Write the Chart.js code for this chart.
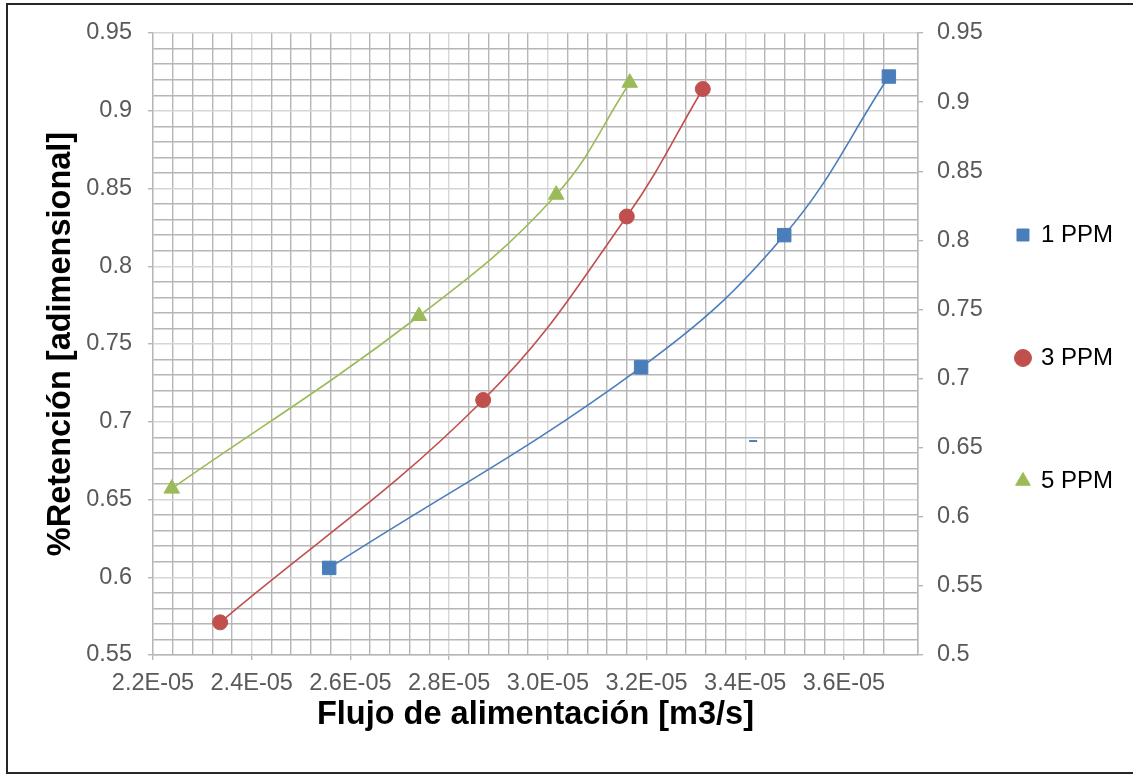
<!DOCTYPE html>
<html>
<head>
<meta charset="utf-8">
<script src="https://cdn.jsdelivr.net/npm/chart.js@4/dist/chart.umd.min.js"></script>
<style>
  body { margin: 0; background: #fff; overflow: hidden; }
  #wrap { position: relative; width: 1133px; height: 774px; }
  #frame { position: absolute; left: 6px; top: 3px; width: 1200px; height: 767px; border: 2px solid #262626; pointer-events: none; }
</style>
</head>
<body>
<div id="wrap">
  <canvas id="grafico" width="1133" height="774"></canvas>
  <div id="frame"></div>
</div>
<script>
// Datos
const series = ["1 PPM", "3 PPM", "5 PPM"];
const flujo1 = [2.557e-5, 3.189e-5, 3.479e-5, 3.691e-5];
const reten1 = [0.606, 0.735, 0.820, 0.922];
const flujo3 = [2.336e-5, 2.869e-5, 3.160e-5, 3.314e-5];
const reten3 = [0.571, 0.714, 0.832, 0.914];
const flujo5 = [2.238e-5, 2.739e-5, 3.017e-5, 3.166e-5];
const reten5 = [0.657, 0.768, 0.846, 0.918];
// pequeña marca suelta (azul) en el area del grafico
const flujoSuelto = [3.416e-5];
const retenSuelto = [0.6876];

// Etiquetas de los ejes
const xTickValues = [2.2e-5, 2.4e-5, 2.6e-5, 2.8e-5, 3.0e-5, 3.2e-5, 3.4e-5, 3.6e-5];
const xTickLabels = ["2.2E-05", "2.4E-05", "2.6E-05", "2.8E-05", "3.0E-05", "3.2E-05", "3.4E-05", "3.6E-05"];
const yLeftValues = [0.55, 0.6, 0.65, 0.7, 0.75, 0.8, 0.85, 0.9, 0.95];
const yLeftLabels = ["0.55", "0.6", "0.65", "0.7", "0.75", "0.8", "0.85", "0.9", "0.95"];
const yRightValues = [0.5, 0.55, 0.6, 0.65, 0.7, 0.75, 0.8, 0.85, 0.9, 0.95];
const yRightLabels = ["0.5", "0.55", "0.6", "0.65", "0.7", "0.75", "0.8", "0.85", "0.9", "0.95"];

const FUENTE = "'Liberation Sans', Arial, sans-serif";
const GRIS_MAYOR = "#d6d6d6";
const GRIS_MENOR = "#b6b6b6";

function puntos(xs, ys) {
  return xs.map((x, i) => ({ x: x, y: ys[i] }));
}

function buscar(valores, etiquetas, v) {
  for (let i = 0; i < valores.length; i++) {
    if (Math.abs(valores[i] - v) < Math.abs(valores[i]) * 1e-6) return etiquetas[i];
  }
  return null;
}

function serie(label, xs, ys, color, estilo, radio) {
  return {
    label: label,
    data: puntos(xs, ys),
    showLine: true,
    tension: 0.4,
    borderColor: color,
    backgroundColor: color,
    borderWidth: 1.6,
    pointStyle: estilo,
    pointRadius: radio,
    pointHoverRadius: radio,
    pointBackgroundColor: color,
    pointBorderColor: color,
    pointBorderWidth: 1
  };
}

const ctx = document.getElementById("grafico");
new Chart(ctx, {
  type: "scatter",
  data: {
    datasets: [
      serie(series[0], flujo1, reten1, "#4a7ebb", "rect", 9.5),
      serie(series[1], flujo3, reten3, "#c0504d", "circle", 7.5),
      serie(series[2], flujo5, reten5, "#9bbb59", "triangle", 9),
      {
        label: "",
        data: puntos(flujoSuelto, retenSuelto),
        showLine: false,
        pointStyle: "line",
        pointRadius: 4,
        pointBorderColor: "#4a7ebb",
        pointBorderWidth: 2
      }
    ]
  },
  options: {
    responsive: false,
    animation: false,
    layout: { padding: { top: 33, right: 10, bottom: 0, left: 0 } },
    plugins: {
      tooltip: { enabled: false },
      legend: {
        position: "right",
        align: "center",
        maxWidth: 400,
        labels: {
          usePointStyle: true,
          boxWidth: 12,
          boxHeight: 12,
          padding: 8,
          color: "#000",
          // cada entrada ocupa una linea alta para separar la leyenda como en Excel
          font: { size: 24, family: FUENTE, lineHeight: "115px" },
          generateLabels: chart => Chart.defaults.plugins.legend.labels.generateLabels(chart)
            .map(it => Object.assign(it, { text: [it.text] })),
          filter: item => item.datasetIndex < 3
        }
      }
    },
    scales: {
      x: {
        type: "linear",
        min: 2.2e-5,
        max: 3.75e-5,
        afterFit: s => { s.height = 119; },
        ticks: {
          stepSize: 4e-7,
          autoSkip: false,
          maxRotation: 0,
          padding: 9,
          color: "#595959",
          font: { size: 23.5, family: FUENTE },
          callback: v => buscar(xTickValues, xTickLabels, v) || ""
        },
        grid: {
          color: c => buscar(xTickValues, xTickLabels, c.tick.value) ? GRIS_MAYOR : GRIS_MENOR,
          tickColor: c => buscar(xTickValues, xTickLabels, c.tick.value) ? GRIS_MENOR : "rgba(0,0,0,0)",
          tickLength: 5,
          lineWidth: 1.4
        },
        border: { color: GRIS_MENOR, width: 1.4 },
        title: {
          display: true,
          text: "Flujo de alimentación [m3/s]",
          color: "#000",
          font: { size: 32.5, weight: "bold", family: FUENTE },
          padding: { top: 0, bottom: 39 }
        }
      },
      y: {
        type: "linear",
        position: "left",
        min: 0.55,
        max: 0.95,
        afterFit: s => { s.width = 153; },
        ticks: {
          stepSize: 0.01,
          autoSkip: false,
          padding: 16,
          color: "#595959",
          font: { size: 23.5, family: FUENTE },
          callback: v => buscar(yLeftValues, yLeftLabels, v) || ""
        },
        grid: {
          color: c => buscar(yLeftValues, yLeftLabels, c.tick.value) ? GRIS_MAYOR : GRIS_MENOR,
          tickColor: c => buscar(yLeftValues, yLeftLabels, c.tick.value) ? GRIS_MENOR : "rgba(0,0,0,0)",
          tickLength: 5,
          lineWidth: 1.4
        },
        border: { color: GRIS_MENOR, width: 1.4 },
        title: {
          display: true,
          text: "%Retención [adimensional]",
          color: "#000",
          font: { size: 32.5, weight: "bold", family: FUENTE },
          padding: { top: 42, bottom: 0 }
        }
      },
      y2: {
        type: "linear",
        position: "right",
        min: 0.5,
        max: 0.95,
        afterFit: s => { s.width = 91; },
        ticks: {
          stepSize: 0.05,
          autoSkip: false,
          padding: 14,
          color: "#595959",
          font: { size: 23.5, family: FUENTE },
          callback: v => buscar(yRightValues, yRightLabels, v) || ""
        },
        grid: { drawOnChartArea: false, tickLength: 5, color: GRIS_MENOR, lineWidth: 1.4 },
        border: { color: GRIS_MENOR, width: 1.4 }
      }
    }
  }
});
</script>
</body>
</html>
